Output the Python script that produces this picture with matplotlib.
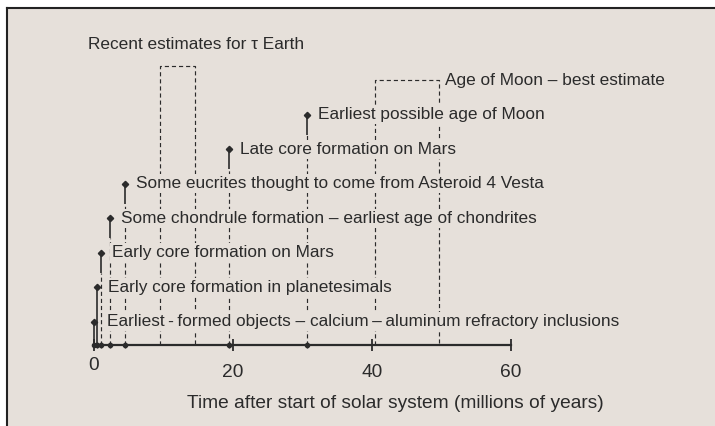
import matplotlib
matplotlib.use("Agg")
import matplotlib.pyplot as plt
from matplotlib.patches import Rectangle
from matplotlib.lines import Line2D

BG, INK = "#e6e0da", "#2b2b2b"
plt.rcParams["font.family"] = ["Liberation Sans", "DejaVu Sans"]

# events: time after start of solar system (Myr), one per row from the bottom
event_t = [0.0, 0.4, 1.0, 2.3, 4.4, 19.4, 30.6]
event_labels = [
    "Earliest\u2009-\u2009formed objects \u2013 calcium\u2009\u2013\u2009aluminum refractory inclusions",
    "Early core formation in planetesimals",
    "Early core formation on Mars",
    "Some chondrule formation \u2013 earliest age of chondrites",
    "Some eucrites thought to come from Asteroid 4 Vesta",
    "Late core formation on Mars",
    "Earliest possible age of Moon",
]
# ranges drawn as dashed boxes
moon_range = (40.4, 49.6)
earth_range = (9.5, 14.5)
moon_label = "Age of Moon \u2013 best estimate"
earth_label = "Recent estimates for \u03c4 Earth"
ticks = [0, 20, 40, 60]
xlabel = "Time after start of solar system (millions of years)"

W, H = 715, 426
fig = plt.figure(figsize=(W / 100, H / 100), dpi=100, facecolor="white")
# panel with dark top/left border
fig.add_artist(Rectangle((7 / W, 0), 1, 1 - 8 / H, transform=fig.transFigure,
                         facecolor=BG, edgecolor="none", zorder=0))
fig.add_artist(Line2D([7 / W, 7 / W], [0, 1 - 8 / H], transform=fig.transFigure,
                      color="#222222", lw=1.5))
fig.add_artist(Line2D([7 / W, 1], [1 - 8 / H, 1 - 8 / H], transform=fig.transFigure,
                      color="#222222", lw=1.5))

ax = fig.add_axes([0, 0, 1, 1])
ax.set_facecolor("none")
px_x, x0 = 6.95, 94          # pixels per Myr, pixel of t=0
px_y, y0 = 34.5, 345         # pixels per row, pixel of axis
ax.set_xlim(-x0 / px_x, (W - x0) / px_x)
ax.set_ylim(-(H - y0) / px_y, y0 / px_y)

base = 0.67                   # height of first marker (rows)
stem = 0.58
dash = dict(color=INK, lw=0.85, ls=(0, (3.5, 2.5)), zorder=1)
FS = 12.4

for i, (t, lab) in enumerate(zip(event_t, event_labels)):
    y = base + i
    lo = 0 if t < 0.8 else y - stem
    ax.plot([t, t], [lo, y], color=INK, lw=1.2, zorder=4, solid_capstyle="butt")
    if lo > 0:
        ax.plot([t, t], [0, lo], **dash)
    ax.plot([t], [y], marker="D", ms=3.2, color=INK, zorder=5)
    ax.plot([t], [0], marker="o", ms=3.0, color=INK, zorder=5)
    ax.annotate(lab, (t, y), xytext=(9.5 if i == 0 else 8, 0), textcoords="offset points",
                va="center", ha="left", fontsize=FS, color=INK, zorder=3,
                bbox=dict(boxstyle="square,pad=0.12", fc=BG, ec="none"))

# dashed range boxes
for (a, b), top in [(moon_range, base + 7), (earth_range, base + 7.42)]:
    ax.plot([a, a, b, b], [0, top, top, 0], **dash)
ax.annotate(moon_label, (moon_range[1], base + 7), xytext=(4.5, 0),
            textcoords="offset points", va="center", ha="left", fontsize=FS, color=INK)
ax.text(-0.9, base + 8.03, earth_label, va="center", ha="left", fontsize=FS, color=INK)

# time axis
for s in ["left", "right", "top"]:
    ax.spines[s].set_visible(False)
ax.spines["bottom"].set_position(("data", 0))
ax.spines["bottom"].set_bounds(0, 60)
ax.spines["bottom"].set_color(INK)
ax.spines["bottom"].set_linewidth(1.6)
ax.set_yticks([])
ax.set_xticks(ticks)
# the "0" sits a little higher than the other tick labels
ax.set_xticklabels(["" if t == 0 else str(t) for t in ticks])
ax.annotate(str(ticks[0]), (ticks[0], 0), xytext=(0, -14.5), textcoords="offset points",
            ha="center", va="center", fontsize=13.8, color=INK)
ax.set_xticks(event_t, minor=True)
ax.tick_params(axis="x", which="major", direction="inout", length=9, width=1.3,
               color=INK, labelsize=13.8, labelcolor=INK, pad=9)
ax.tick_params(axis="x", which="minor", direction="inout", length=5, width=1.0, color=INK)
ax.text(43.3, -(403 - y0) / px_y, xlabel, ha="center", va="center",
        fontsize=13.8, color=INK)

fig.savefig("out.png", dpi=100, facecolor="white")
